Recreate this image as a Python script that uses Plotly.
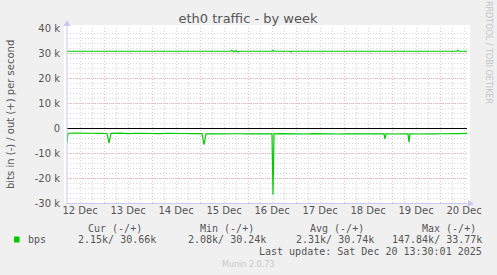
import plotly.graph_objects as go

# ---------------- data ----------------
in_times = [
    "2025-12-12 05:30", "2025-12-12 06:00", "2025-12-12 10:00", "2025-12-12 14:00", "2025-12-12 18:00",
    "2025-12-12 22:00", "2025-12-13 01:30", "2025-12-13 02:30", "2025-12-13 03:30", "2025-12-13 08:00",
    "2025-12-13 12:00", "2025-12-13 16:00", "2025-12-13 20:00", "2025-12-14 00:00", "2025-12-14 04:00",
    "2025-12-14 08:00", "2025-12-14 12:00", "2025-12-14 16:00", "2025-12-14 20:00", "2025-12-15 01:00",
    "2025-12-15 02:00", "2025-12-15 03:00", "2025-12-15 08:00", "2025-12-15 12:00", "2025-12-15 16:00",
    "2025-12-15 20:00", "2025-12-16 00:00", "2025-12-16 04:00", "2025-12-16 08:00", "2025-12-16 12:00",
    "2025-12-16 12:30", "2025-12-16 13:00", "2025-12-16 17:00", "2025-12-16 21:00", "2025-12-17 01:00",
    "2025-12-17 05:00", "2025-12-17 09:00", "2025-12-17 13:00", "2025-12-17 17:00", "2025-12-17 21:00",
    "2025-12-18 01:00", "2025-12-18 05:00", "2025-12-18 09:00", "2025-12-18 13:00", "2025-12-18 17:00",
    "2025-12-18 20:00", "2025-12-18 20:30", "2025-12-18 21:00", "2025-12-19 01:00", "2025-12-19 05:00",
    "2025-12-19 08:00", "2025-12-19 08:30", "2025-12-19 09:00", "2025-12-19 13:00", "2025-12-19 17:00",
    "2025-12-19 21:00", "2025-12-20 01:00", "2025-12-20 05:00", "2025-12-20 09:00", "2025-12-20 13:30",
]
in_bps = [
    5800, 2100, 2050, 2200, 2100,
    2150, 2200, 6000, 2150, 2050,
    2250, 2100, 2200, 2150, 2250,
    2100, 2300, 2200, 2250, 2200,
    6700, 2300, 2350, 2250, 2400,
    2300, 2350, 2250, 2400, 2300,
    26700, 2350, 2250, 2350, 2300,
    2400, 2250, 2350, 2300, 2400,
    2300, 2350, 2250, 2400, 2300,
    2350, 4400, 2300, 2400, 2250,
    2350, 5700, 2300, 2400, 2250,
    2350, 2300, 2400, 2250, 2150,
]

out_times = [
    "2025-12-12 05:30", "2025-12-13 12:00", "2025-12-14 20:00", "2025-12-14 20:30", "2025-12-14 21:00",
    "2025-12-15 15:00", "2025-12-15 16:00", "2025-12-15 17:00", "2025-12-15 18:00", "2025-12-15 19:00",
    "2025-12-15 20:00", "2025-12-16 12:00", "2025-12-16 12:30", "2025-12-16 13:00", "2025-12-16 21:00",
    "2025-12-16 21:30", "2025-12-16 22:00", "2025-12-18 04:00", "2025-12-18 04:30", "2025-12-18 05:00",
    "2025-12-18 05:30", "2025-12-18 19:00", "2025-12-18 19:30", "2025-12-18 20:00", "2025-12-18 20:30",
    "2025-12-18 21:00", "2025-12-20 08:30", "2025-12-20 09:00", "2025-12-20 09:30", "2025-12-20 13:30",
]
out_bps = [
    30700, 30700, 30700, 30400, 30700,
    30700, 31000, 30500, 30900, 30500,
    30700, 30700, 31100, 30700, 30700,
    30400, 30700, 30700, 30400, 30700,
    30500, 30700, 30450, 30700, 30450,
    30700, 30700, 31050, 30700, 30700,
]

day_ticks = ["2025-12-%02d 12:00" % d for d in range(12, 21)]
day_labels = ["%d Dec" % d for d in range(12, 21)]
midnights = ["2025-12-%02d 00:00" % d for d in range(13, 21)]
y_ticks = [-30000, -20000, -10000, 0, 10000, 20000, 30000, 40000]
y_labels = ["-30 k", "-20 k", "-10 k", "0", "10 k", "20 k", "30 k", "40 k"]

series_name = "bps"
stat_headers = ["Cur (-/+)", "Min (-/+)", "Avg (-/+)", "Max (-/+)"]
stat_values = ["2.15k/ 30.66k", "2.08k/ 30.24k", "2.31k/ 30.74k", "147.84k/ 33.77k"]
last_update = "Last update: Sat Dec 20 13:30:01 2025"
title_text = "eth0 traffic - by week"
ytitle_text = "bits in (-) / out (+) per second"
side_text = "RRDTOOL / TOBI OETIKER"
footer_text = "Munin 2.0.73"

# ---------------- layout constants ----------------
W, H = 497, 275
L, R, T, B = 67, 30, 28, 72
PW, PH = W - L - R, H - T - B
GREEN = "#00CC00"
TXT = "#555555"
AXC = "#C8C8F0"
MGRID = "#F0B4B4"
GRID = "#D6D6D6"
MONO = "DejaVu Sans Mono"
SANS = "DejaVu Sans"


def px(x):
    return (x - L) / PW


def py(y):
    return (H - B - y) / PH


fig = go.Figure()
fig.add_trace(go.Scatter(x=out_times, y=out_bps, mode="lines",
                         line=dict(color=GREEN, width=1.2), showlegend=False, hoverinfo="skip"))
fig.add_trace(go.Scatter(x=in_times, y=[-v for v in in_bps], mode="lines",
                         line=dict(color=GREEN, width=1.2), showlegend=False, hoverinfo="skip"))
# invisible trace on overlay axis carrying the day labels
fig.add_trace(go.Scatter(x=[in_times[0], in_times[-1]], y=[0, 0], xaxis="x2", mode="lines",
                         line=dict(width=0), showlegend=False, hoverinfo="skip", opacity=0))

fig.update_layout(
    width=W, height=H,
    margin=dict(l=L, r=R, t=T, b=B),
    paper_bgcolor="#F0F0F0",
    plot_bgcolor="rgba(0,0,0,0)",
    xaxis=dict(
        type="date", range=["2025-12-12 05:30", "2025-12-20 13:30"],
        tickmode="array", tickvals=midnights, showticklabels=False,
        showgrid=True, gridcolor=MGRID, griddash="1px,2px", gridwidth=1,
        zeroline=False, showline=False, ticks="",
        minor=dict(showgrid=True, dtick=6 * 3600 * 1000, tick0="2025-12-12 00:00",
                   gridcolor=GRID, griddash="1px,2px", gridwidth=1),
    ),
    xaxis2=dict(
        type="date", overlaying="x", matches="x", side="bottom",
        tickmode="array", tickvals=day_ticks, ticktext=day_labels,
        showgrid=False, zeroline=False, showline=False, ticks="",
        tickfont=dict(family=SANS, size=10, color=TXT),
    ),
    yaxis=dict(
        range=[-30000, 40000], tickmode="array", tickvals=y_ticks, ticktext=y_labels,
        showgrid=True, gridcolor=MGRID, griddash="1px,1px", gridwidth=1,
        minor=dict(showgrid=True, dtick=2000, tick0=0, gridcolor=GRID,
                   griddash="1px,2px", gridwidth=1),
        zeroline=True, zerolinecolor="#000000", zerolinewidth=1,
        showline=False, ticks="", ticklabelstandoff=6,
        tickfont=dict(family=SANS, size=10, color=TXT),
    ),
    title=dict(text=title_text, x=248 / W, xanchor="center", y=1 - 18 / H, yanchor="middle",
               font=dict(family=SANS, size=13, color=TXT)),
    showlegend=False,
)

shapes = [
    dict(type="rect", xref="paper", yref="paper", x0=px(64), x1=px(470), y0=py(203), y1=py(25),
         fillcolor="white", line=dict(width=0), layer="below"),
    dict(type="line", xref="paper", yref="paper", x0=px(67), x1=px(67), y0=py(203.5), y1=py(24),
         line=dict(color=AXC, width=1)),
    dict(type="line", xref="paper", yref="paper", x0=px(66), x1=px(469), y0=py(203.5), y1=py(203.5),
         line=dict(color=AXC, width=1)),
    dict(type="path", xref="paper", yref="paper",
         path="M %f,%f L %f,%f L %f,%f Z" % (px(63.5), py(26), px(70.5), py(26), px(67), py(20)),
         fillcolor=AXC, line=dict(width=0)),
    dict(type="path", xref="paper", yref="paper",
         path="M %f,%f L %f,%f L %f,%f Z" % (px(468), py(200), px(468), py(207), px(474), py(203.5)),
         fillcolor=AXC, line=dict(width=0)),
    dict(type="rect", xref="paper", yref="paper", x0=px(14), x1=px(19.5), y0=py(242.5), y1=py(236.5),
         fillcolor=GREEN, line=dict(width=0)),
]
fig.update_layout(shapes=shapes)

ann = []
ann.append(dict(text=ytitle_text, textangle=-90, x=px(10), y=py(115), xref="paper", yref="paper",
                showarrow=False, xanchor="center", yanchor="middle",
                font=dict(family=SANS, size=10, color=TXT)))
ann.append(dict(text=side_text, textangle=90, x=px(489), y=py(52), xref="paper", yref="paper",
                showarrow=False, xanchor="center", yanchor="middle",
                font=dict(family=SANS, size=8, color="#C4C4C4")))
header_right = [144, 256, 366, 478]
value_right = [158, 268, 376, 484]
for h, xr in zip(stat_headers, header_right):
    ann.append(dict(text=h, x=px(xr), y=py(228), xref="paper", yref="paper", showarrow=False,
                    xanchor="right", yanchor="middle", font=dict(family=MONO, size=10, color=TXT)))
for v, xr in zip(stat_values, value_right):
    ann.append(dict(text=v, x=px(xr), y=py(239.5), xref="paper", yref="paper", showarrow=False,
                    xanchor="right", yanchor="middle", font=dict(family=MONO, size=10, color=TXT)))
ann.append(dict(text=series_name, x=px(26), y=py(239.5), xref="paper", yref="paper", showarrow=False,
                xanchor="left", yanchor="middle", font=dict(family=MONO, size=10, color=TXT)))
ann.append(dict(text=last_update, x=px(484), y=py(251), xref="paper", yref="paper", showarrow=False,
                xanchor="right", yanchor="middle", font=dict(family=MONO, size=10, color=TXT)))
ann.append(dict(text=footer_text, x=px(248), y=py(264), xref="paper", yref="paper", showarrow=False,
                xanchor="center", yanchor="middle", font=dict(family=SANS, size=8, color="#C8C8C8")))
fig.update_layout(annotations=ann)

fig.write_html("out.html")
